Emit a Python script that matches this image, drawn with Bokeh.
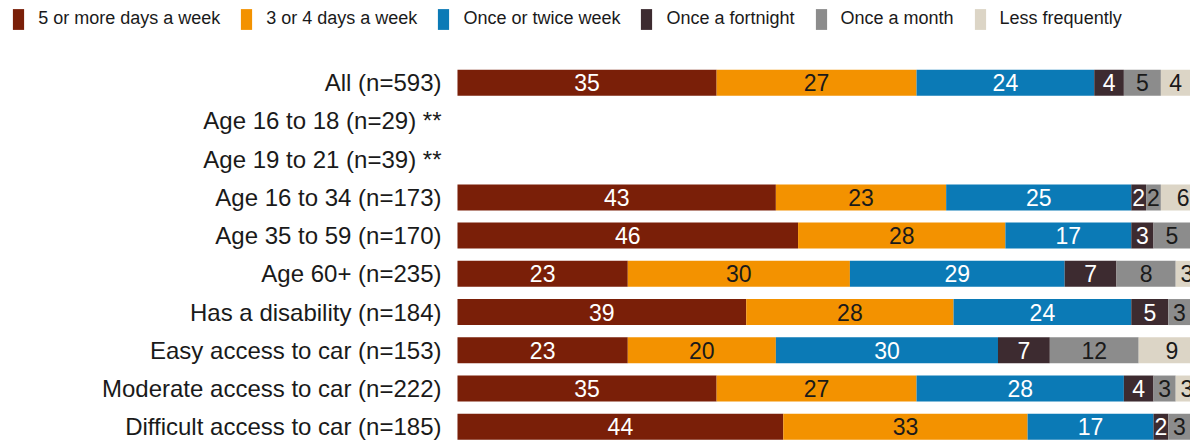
from bokeh.plotting import figure
from bokeh.models import Range1d, Legend, LegendItem, ColumnDataSource
from bokeh.core.properties import value
from bokeh.embed import file_html
from bokeh.resources import INLINE

categories = [
    "All (n=593)",
    "Age 16 to 18 (n=29) **",
    "Age 19 to 21 (n=39) **",
    "Age 16 to 34 (n=173)",
    "Age 35 to 59 (n=170)",
    "Age 60+ (n=235)",
    "Has a disability (n=184)",
    "Easy access to car (n=153)",
    "Moderate access to car (n=222)",
    "Difficult access to car (n=185)",
]

five_plus = [35, None, None, 43, 46, 23, 39, 23, 35, 44]
three_four = [27, None, None, 23, 28, 30, 28, 20, 27, 33]
once_twice = [24, None, None, 25, 17, 29, 24, 30, 28, 17]
fortnight = [4, None, None, 2, 3, 7, 5, 7, 4, 2]
month = [5, None, None, 2, 5, 8, 3, 12, 3, 3]
less_freq = [4, None, None, 6, 1, 3, 2, 9, 3, 1]

series_names = ["5 or more days a week", "3 or 4 days a week", "Once or twice week",
                "Once a fortnight", "Once a month", "Less frequently"]
series_values = [five_plus, three_four, once_twice, fortnight, month, less_freq]
colors = ["#7A1F08", "#F39200", "#0B7AB6", "#3D2B30", "#8C8C8C", "#DCD5C6"]
text_colors = ["#FFFFFF", "#1A1A1A", "#FFFFFF", "#FFFFFF", "#1A1A1A", "#1A1A1A"]

X_MAX = 99.0  # visible part of the 0-100 % scale

keys = ["s%d" % i for i in range(len(series_names))]
rows = list(range(len(categories)))
data = {"y": rows}
for k, vals in zip(keys, series_values):
    data[k] = [v if v is not None else 0 for v in vals]
source = ColumnDataSource(data)

p = figure(width=1190, height=443, output_backend="svg", toolbar_location=None,
           x_range=Range1d(-61.72, X_MAX), y_range=Range1d(9.438, -2.150),
           x_axis_location=None, y_axis_location=None,
           min_border_left=0, min_border_right=0, min_border_top=0, min_border_bottom=0)
p.outline_line_color = None
p.grid.visible = False

renderers = p.hbar_stack(keys, y="y", height=0.68, fill_color=colors, line_color=None, source=source)

# segment value labels
cum = [0.0] * len(rows)
for vals, tc in zip(series_values, text_colors):
    xs, ys, ts = [], [], []
    for i, v in enumerate(vals):
        if v is None:
            continue
        if cum[i] < X_MAX:
            xs.append(cum[i] + v / 2.0)
            ys.append(i)
            ts.append(str(v))
        cum[i] += v
    p.text(x=xs, y=ys, text=ts, text_align="center", text_baseline="middle",
           text_color=tc, text_font=value("Liberation Sans"), text_font_size="23px")

# category labels, right-aligned just left of the bars' zero line
p.text(x=[0] * len(rows), y=rows, text=categories, x_offset=-16,
       text_align="right", text_baseline="middle", text_color="#1A1A1A",
       text_font=value("Liberation Sans"), text_font_size="24px")

legend = Legend(items=[LegendItem(label=n, renderers=[r]) for n, r in zip(series_names, renderers)],
                orientation="horizontal", location=(11.2, 411.3),
                padding=0, margin=0, spacing=19, label_standoff=13,
                glyph_width=14, glyph_height=26, label_height=26,
                label_text_font="Liberation Sans", label_text_font_size="18px",
                label_text_color="#1A1A1A",
                border_line_color=None, background_fill_alpha=0)
p.add_layout(legend)

open("out.html", "w").write(file_html(p, INLINE))
